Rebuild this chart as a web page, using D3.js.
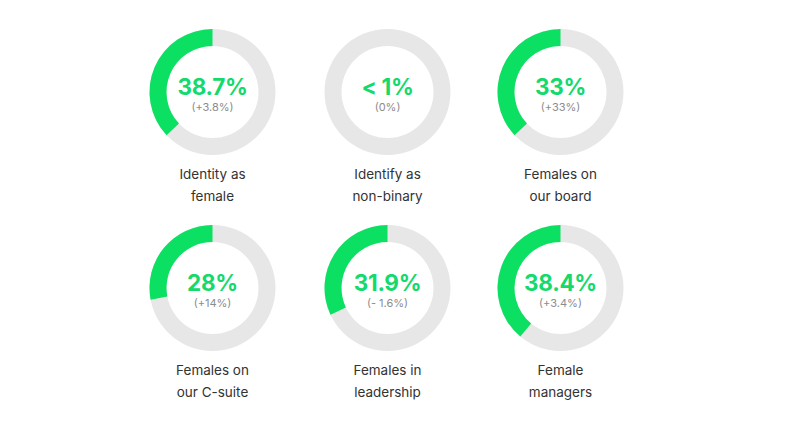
<!DOCTYPE html>
<html><head><meta charset="utf-8">
<script src="https://cdn.jsdelivr.net/npm/d3@7"></script>
<style>html,body{margin:0;padding:0;background:#fff}svg{display:block}text{font-family:Inter,sans-serif;text-anchor:middle}</style>
</head><body><svg id="c" width="794" height="442"></svg>
<script>
const categories=[["Identity as","female"],["Identify as","non-binary"],["Females on","our board"],["Females on","our C-suite"],["Females in","leadership"],["Female","managers"]];
const arcShares=[37,0,37,28,32,39];
const valueLabels=["38.7%","< 1%","33%","28%","31.9%","38.4%"];
const changeLabels=["(+3.8%)","(0%)","(+33%)","(+14%)","(- 1.6%)","(+3.4%)"];
const svg=d3.select("#c");
const x=d3.scaleOrdinal().domain([0,1,2]).range([212.5,387.5,560.5]);
const y=d3.scalePoint().domain([0,1]).range([92,288]);
const angle=d3.scaleLinear().domain([0,100]).range([0,-2*Math.PI]);
const arc=d3.arc().innerRadius(46).outerRadius(63);
categories.forEach((lines,i)=>{
  const g=svg.append("g").attr("transform",`translate(${x(i%3)},${y(Math.floor(i/3))})`);
  g.append("path").attr("d",arc({startAngle:0,endAngle:2*Math.PI})).attr("fill","#e7e7e7");
  if(arcShares[i]>0)g.append("path").attr("d",arc({startAngle:0,endAngle:angle(arcShares[i])})).attr("fill","#0ce062");
  g.append("text").attr("y",3).attr("font-size",22.5).attr("font-weight",700).attr("letter-spacing",-0.3).attr("fill","#14d96c").text(valueLabels[i]);
  g.append("text").attr("y",19).attr("font-size",11).attr("fill","#8c8c8c").text(changeLabels[i]);
  lines.forEach((t,k)=>g.append("text").attr("y",86.5+k*22).attr("font-size",13.5).attr("fill","#333").text(t));
});
</script></body></html>
